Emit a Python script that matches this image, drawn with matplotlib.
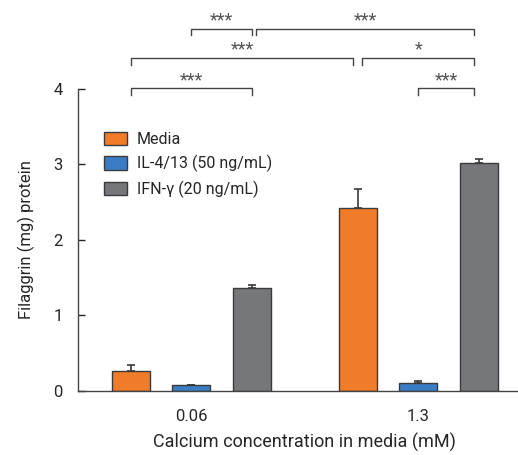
import matplotlib.pyplot as plt
import numpy as np

plt.rcParams['font.family'] = ['Roboto', 'DejaVu Sans']

groups = ['0.06', '1.3']
series = ['Media', 'IL-4/13 (50 ng/mL)', 'IFN-\u03b3 (20 ng/mL)']
means = {
    'Media': [0.26, 2.42],
    'IL-4/13 (50 ng/mL)': [0.075, 0.105],
    'IFN-\u03b3 (20 ng/mL)': [1.36, 3.02],
}
errs = {
    'Media': [0.09, 0.255],
    'IL-4/13 (50 ng/mL)': [0.0, 0.025],
    'IFN-\u03b3 (20 ng/mL)': [0.05, 0.05],
}
colors = ['#F07B28', '#3B7DC5', '#76777B']

# significance brackets: (group, bar) start, (group, bar) end, level, label
sig = [
    ((0, 1), (0, 2), 2, '***'),
    ((0, 2), (1, 2), 2, '***'),
    ((0, 0), (1, 0), 1, '***'),
    ((1, 0), (1, 2), 1, '*'),
    ((0, 0), (0, 2), 0, '***'),
    ((1, 1), (1, 2), 0, '***'),
]

fig = plt.figure(figsize=(5.18, 4.55), dpi=100)
ax = fig.add_axes([0.1506, 0.1407, 0.8494, 0.6637])

x = np.arange(len(groups))
off = 0.2665
w = 0.167
for i, s in enumerate(series):
    ax.bar(x + (i - 1) * off, means[s], w, color=colors[i], edgecolor='#3a3a3a',
           linewidth=1.0, label=s, zorder=2)
    ax.errorbar(x + (i - 1) * off, means[s], yerr=[np.zeros(2), errs[s]], fmt='none',
                ecolor='#3a3a3a', elinewidth=1.2, capsize=3, capthick=1.2, zorder=1)

txt = '#262626'
ax.set_xlim(-0.5, 1.44)
ax.set_ylim(0, 4)
ax.set_yticks([0, 1, 2, 3, 4])
ax.set_xticks(x)
ax.set_xticklabels(groups)
ax.tick_params(axis='y', direction='in', length=5, width=1, pad=11, labelsize=12, colors=txt)
ax.tick_params(axis='x', length=0, pad=13, labelsize=12, colors=txt)
for sp in ['top', 'right']:
    ax.spines[sp].set_visible(False)
for sp in ['left', 'bottom']:
    ax.spines[sp].set_color('#444444')
    ax.spines[sp].set_linewidth(1)
ax.set_xlabel('Calcium concentration in media (mM)', fontsize=13, color=txt)
ax.xaxis.set_label_coords(0.514, -0.14)
ax.set_ylabel('Filaggrin (mg) protein', fontsize=12, color=txt, labelpad=13)

levels = [4.01, 4.41, 4.80]
drop = 0.09
for (g0, b0), (g1, b1), lv, lab in sig:
    x0 = g0 + (b0 - 1) * off
    x1 = g1 + (b1 - 1) * off
    if (g0, b0) == (0, 2) and (g1, b1) == (1, 2):
        x0 += 0.02
    if (g0, b0) == (1, 0) and (g1, b1) == (1, 2):
        x0 += 0.02
    if (g0, b0) == (0, 0) and (g1, b1) == (1, 0):
        x1 -= 0.02
    if g1 == 1 and b1 == 2:
        x1 -= 0.02
    y = levels[lv]
    ax.plot([x0, x0, x1, x1], [y - drop, y, y, y - drop], color='#444444', lw=1,
            clip_on=False)
    ax.text((x0 + x1) / 2, y - 0.01, lab, ha='center', va='bottom', fontsize=13,
            color='#555555', clip_on=False)

ax.legend(loc='upper left', bbox_to_anchor=(0.026, 0.905), frameon=False, fontsize=11.5,
          handlelength=1.45, handleheight=0.9, handletextpad=0.6, labelspacing=0.5,
          labelcolor=txt)

fig.savefig('out.png', dpi=100)
